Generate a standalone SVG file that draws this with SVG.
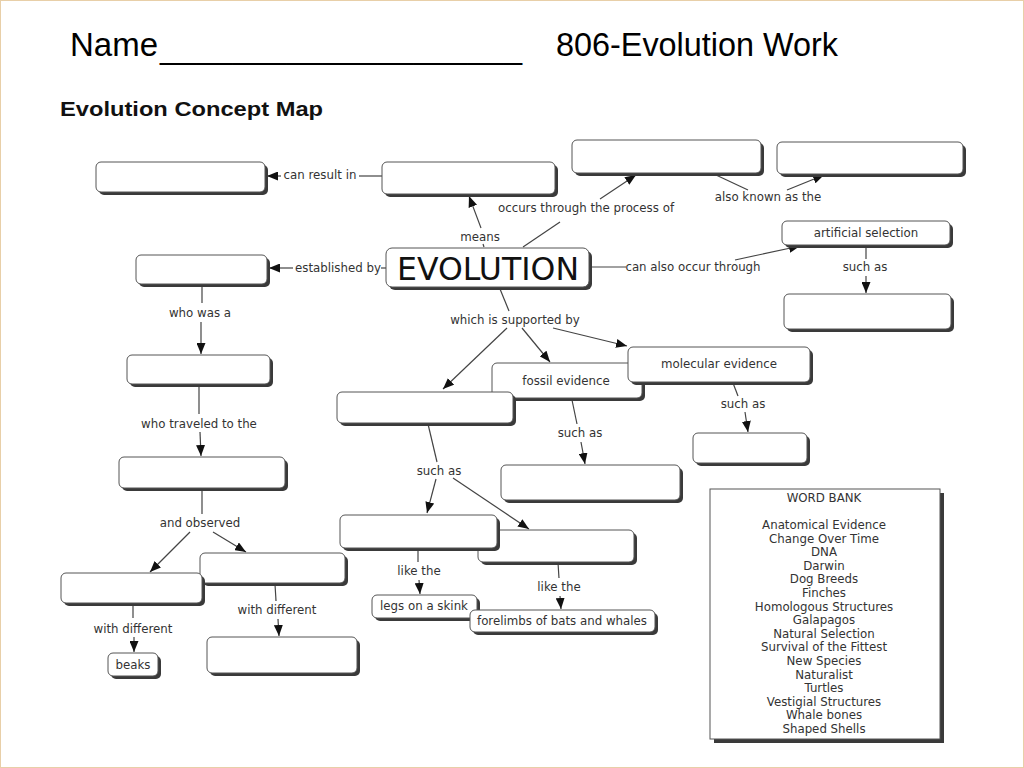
<svg xmlns="http://www.w3.org/2000/svg" width="1024" height="768" viewBox="0 0 1024 768">
<style>
.sh{fill:#3a3a3a}
.bx{fill:#fff;stroke:#555;stroke-width:1}
.t{font-family:"DejaVu Sans",Verdana,sans-serif;font-size:11.8px;fill:#333;text-anchor:middle}
.c{fill:none;stroke:#444;stroke-width:1.2}
.a{marker-end:url(#ah)}
.ti{font-family:"Liberation Sans",Arial,sans-serif;font-size:33px;fill:#000}
</style>
<defs>
<marker id="ah" markerUnits="userSpaceOnUse" markerWidth="11" markerHeight="9" refX="11" refY="4.5" orient="auto" viewBox="0 0 11 9">
<path d="M0,0 L11,4.5 L0,9 z" fill="#111"/>
</marker>
</defs>
<rect x="0" y="0" width="1024" height="768" fill="#fff"/>
<rect x="0.5" y="0.5" width="1023" height="767" fill="none" stroke="#e8cfa8"/>
<text class="ti" x="70" y="56">Name</text>
<text class="ti" x="160" y="58" textLength="362" lengthAdjust="spacingAndGlyphs">____________________</text>
<text class="ti" x="556" y="56" textLength="282" lengthAdjust="spacingAndGlyphs">806-Evolution Work</text>
<text x="60" y="116" font-family="Liberation Sans,Arial,sans-serif" font-size="21" font-weight="bold" fill="#111" textLength="263" lengthAdjust="spacingAndGlyphs">Evolution Concept Map</text>

<g id="connectors">
<path class="c" d="M382,176 L359,176"/>
<path class="c a" d="M281,176 L267,176"/>
<path class="c" d="M484,247 L483,244"/>
<path class="c a" d="M481,228 L469,196"/>
<path class="c" d="M523,247 L560,222"/>
<path class="c a" d="M600,199 L636,175"/>
<path class="c" d="M716,175 L748,190"/>
<path class="c a" d="M787,190 L824,175"/>
<path class="c" d="M386,268 L381,268"/>
<path class="c a" d="M293,268 L269,268"/>
<path class="c" d="M590,267 L626,267"/>
<path class="c a" d="M735,260 L800,246"/>
<path class="c" d="M866,245 L866,259"/>
<path class="c a" d="M866,276 L866,293"/>
<path class="c" d="M500,289 L509,311"/>
<path class="c a" d="M507,328 L443,389"/>
<path class="c a" d="M522,328 L550,362"/>
<path class="c a" d="M553,328 L627,346"/>
<path class="c" d="M202,284 L202,303"/>
<path class="c a" d="M201,322 L201,354"/>
<path class="c" d="M199,386 L199,414"/>
<path class="c a" d="M200,432 L201,456"/>
<path class="c" d="M202,489 L202,514"/>
<path class="c a" d="M190,532 L150,572"/>
<path class="c a" d="M213,532 L246,552"/>
<path class="c" d="M133,604 L133,618"/>
<path class="c a" d="M134,637 L134,652"/>
<path class="c" d="M275,584 L276,601"/>
<path class="c a" d="M278,619 L279,636"/>
<path class="c" d="M428,424 L437,462"/>
<path class="c a" d="M436,479 L427,513"/>
<path class="c a" d="M453,478 L529,529"/>
<path class="c" d="M572,400 L577,424"/>
<path class="c a" d="M581,442 L585,464"/>
<path class="c" d="M733,383 L738,396"/>
<path class="c a" d="M745,412 L748,432"/>
<path class="c" d="M418,549 L418,562"/>
<path class="c a" d="M419,580 L420,594"/>
<path class="c" d="M558,563 L559,578"/>
<path class="c a" d="M560,596 L561,609"/>
<text class="t" x="320" y="179">can result in</text>
<text class="t" x="480" y="241">means</text>
<text class="t" x="586" y="212">occurs through the process of</text>
<text class="t" x="768" y="201">also known as the</text>
<text class="t" x="338" y="272">established by</text>
<text class="t" x="693" y="271">can also occur through</text>
<text class="t" x="865" y="271">such as</text>
<text class="t" x="515" y="324">which is supported by</text>
<text class="t" x="200" y="317">who was a</text>
<text class="t" x="199" y="428">who traveled to the</text>
<text class="t" x="200" y="527">and observed</text>
<text class="t" x="133" y="633">with different</text>
<text class="t" x="277" y="614">with different</text>
<text class="t" x="439" y="475">such as</text>
<text class="t" x="580" y="437">such as</text>
<text class="t" x="743" y="408">such as</text>
<text class="t" x="419" y="575">like the</text>
<text class="t" x="559" y="591">like the</text>
</g>

<g id="n-result"><rect class="sh" x="99" y="165" width="169" height="30" rx="5"/><rect class="bx" x="96" y="162" width="169" height="30" rx="5"/></g>
<g id="n-means"><rect class="sh" x="385" y="165" width="173" height="32" rx="5"/><rect class="bx" x="382" y="162" width="173" height="32" rx="5"/></g>
<g id="n-process"><rect class="sh" x="575" y="143" width="189" height="33" rx="5"/><rect class="bx" x="572" y="140" width="189" height="33" rx="5"/></g>
<g id="n-aka"><rect class="sh" x="780" y="145" width="186" height="32" rx="5"/><rect class="bx" x="777" y="142" width="186" height="32" rx="5"/></g>
<g id="n-evolution"><rect class="sh" x="389" y="251" width="203" height="39" rx="6"/><rect class="bx" x="386" y="248" width="203" height="39" rx="6"/><text x="488" y="280" font-family="DejaVu Sans,Verdana,sans-serif" font-size="32" fill="#111" text-anchor="middle" textLength="182" lengthAdjust="spacingAndGlyphs">EVOLUTION</text></g>
<g id="n-established"><rect class="sh" x="139" y="258" width="131" height="29" rx="5"/><rect class="bx" x="136" y="255" width="131" height="29" rx="5"/></g>
<g id="n-artificial"><rect class="sh" x="785" y="224" width="168" height="24" rx="5"/><rect class="bx" x="782" y="221" width="168" height="24" rx="5"/><text class="t" x="866" y="237">artificial selection</text></g>
<g id="n-artsuch"><rect class="sh" x="787" y="297" width="167" height="35" rx="5"/><rect class="bx" x="784" y="294" width="167" height="35" rx="5"/></g>
<g id="n-naturalist"><rect class="sh" x="130" y="358" width="143" height="29" rx="5"/><rect class="bx" x="127" y="355" width="143" height="29" rx="5"/></g>
<g id="n-fossil"><rect class="sh" x="495" y="366" width="150" height="35" rx="5"/><rect class="bx" x="492" y="363" width="150" height="35" rx="5"/><text class="t" x="566" y="385">fossil evidence</text></g>
<g id="n-molecular"><rect class="sh" x="631" y="350" width="182" height="35" rx="5"/><rect class="bx" x="628" y="347" width="182" height="35" rx="5"/><text class="t" x="719" y="368">molecular evidence</text></g>
<g id="n-anatomical"><rect class="sh" x="340" y="395" width="176" height="31" rx="5"/><rect class="bx" x="337" y="392" width="176" height="31" rx="5"/></g>
<g id="n-dna"><rect class="sh" x="696" y="436" width="114" height="30" rx="5"/><rect class="bx" x="693" y="433" width="114" height="30" rx="5"/></g>
<g id="n-fossilsuch"><rect class="sh" x="504" y="468" width="179" height="35" rx="5"/><rect class="bx" x="501" y="465" width="179" height="35" rx="5"/></g>
<g id="n-galapagos"><rect class="sh" x="122" y="460" width="166" height="31" rx="5"/><rect class="bx" x="119" y="457" width="166" height="31" rx="5"/></g>
<g id="n-vestigial"><rect class="sh" x="481" y="533" width="156" height="32" rx="5"/><rect class="bx" x="478" y="530" width="156" height="32" rx="5"/></g>
<g id="n-homologous"><rect class="sh" x="343" y="518" width="157" height="33" rx="5"/><rect class="bx" x="340" y="515" width="157" height="33" rx="5"/></g>
<g id="n-turtles"><rect class="sh" x="203" y="556" width="145" height="30" rx="5"/><rect class="bx" x="200" y="553" width="145" height="30" rx="5"/></g>
<g id="n-finches"><rect class="sh" x="64" y="576" width="141" height="30" rx="5"/><rect class="bx" x="61" y="573" width="141" height="30" rx="5"/></g>
<g id="n-legs"><rect class="sh" x="375" y="598" width="105" height="23" rx="5"/><rect class="bx" x="372" y="595" width="105" height="23" rx="5"/><text class="t" x="424" y="610">legs on a skink</text></g>
<g id="n-forelimbs"><rect class="sh" x="473" y="613" width="185" height="22" rx="5"/><rect class="bx" x="470" y="610" width="185" height="22" rx="5"/><text class="t" x="562" y="625">forelimbs of bats and whales</text></g>
<g id="n-beaks"><rect class="sh" x="111" y="656" width="50" height="23" rx="5"/><rect class="bx" x="108" y="653" width="50" height="23" rx="5"/><text class="t" x="133" y="669">beaks</text></g>
<g id="n-shells"><rect class="sh" x="210" y="640" width="150" height="36" rx="5"/><rect class="bx" x="207" y="637" width="150" height="36" rx="5"/></g>

<g id="wordbank">
<rect class="sh" x="714" y="493" width="230" height="250"/>
<rect x="710" y="489" width="230" height="250" fill="#fff" stroke="#555"/>
<text class="t" x="824" y="502">WORD BANK</text>
<text class="t" x="824" y="529">Anatomical Evidence</text>
<text class="t" x="824" y="542.6">Change Over Time</text>
<text class="t" x="824" y="556.2">DNA</text>
<text class="t" x="824" y="569.8">Darwin</text>
<text class="t" x="824" y="583.4">Dog Breeds</text>
<text class="t" x="824" y="597">Finches</text>
<text class="t" x="824" y="610.6">Homologous Structures</text>
<text class="t" x="824" y="624.2">Galapagos</text>
<text class="t" x="824" y="637.8">Natural Selection</text>
<text class="t" x="824" y="651.4">Survival of the Fittest</text>
<text class="t" x="824" y="665">New Species</text>
<text class="t" x="824" y="678.6">Naturalist</text>
<text class="t" x="824" y="692.2">Turtles</text>
<text class="t" x="824" y="705.8">Vestigial Structures</text>
<text class="t" x="824" y="719.4">Whale bones</text>
<text class="t" x="824" y="733">Shaped Shells</text>
</g>
</svg>
